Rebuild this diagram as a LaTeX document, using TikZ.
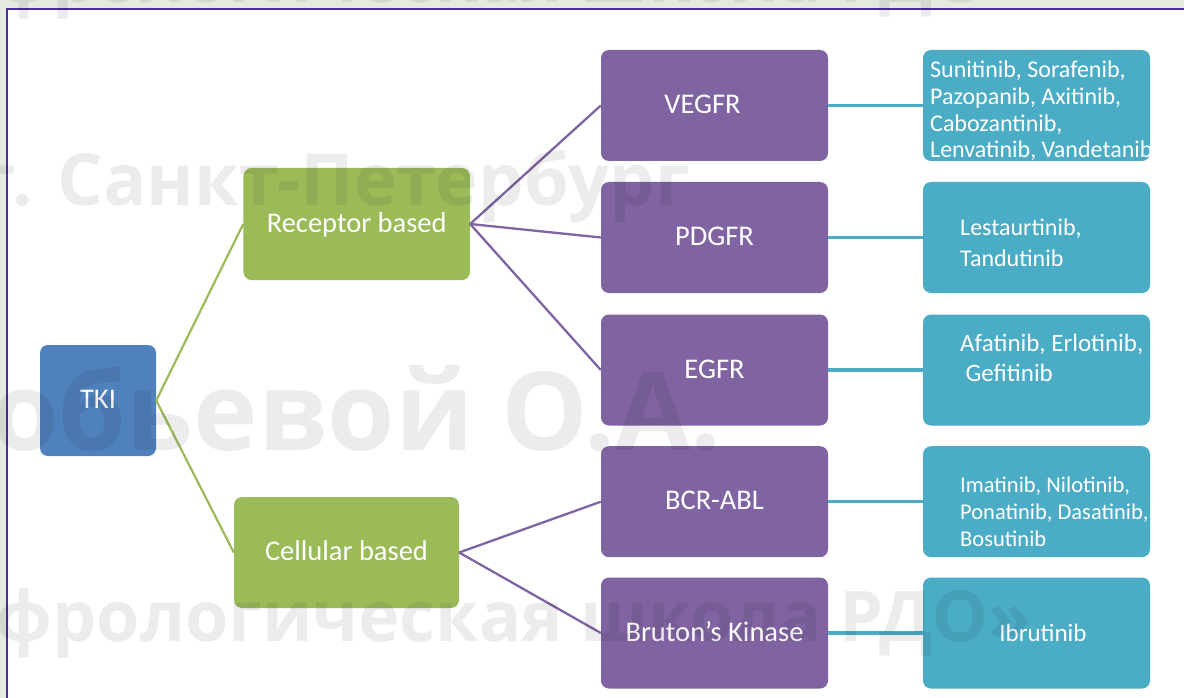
\documentclass[tikz,border=0pt]{standalone}
\usepackage{fontspec}
\setmainfont{Carlito}
\newfontfamily\wmfont{Open Sans}
\definecolor{tkiblue}{HTML}{4F81BD}
\definecolor{lvgreen}{HTML}{9BBB59}
\definecolor{lvpurple}{HTML}{8064A2}
\definecolor{lvcyan}{HTML}{4BACC6}
\definecolor{framecol}{RGB}{75,45,160}
\definecolor{outercol}{RGB}{227,235,225}
\begin{document}
\begin{tikzpicture}[x=1pt,y=-1pt,
  basebox/.style={rounded corners=8pt, inner sep=0pt, text=white,
    minimum width=227pt, minimum height=111pt,
    text height=16pt, text depth=0pt, font=\fontsize{28.5}{30}\selectfont},
  tkibox/.style={basebox, fill=tkiblue, minimum width=116pt},
  grbox/.style={basebox, fill=lvgreen},
  pubox/.style={basebox, fill=lvpurple},
  cybox/.style={basebox, fill=lvcyan},
  drug/.style={text=white, inner sep=0pt, align=left},
  grline/.style={draw=lvgreen, line width=2.2pt},
  puline/.style={draw=lvpurple, line width=2.3pt},
  cyline/.style={draw=lvcyan, line width=3.2pt},
  wm/.style={inner sep=0pt, text=black, text opacity=0.075,
    font=\wmfont\bfseries\fontsize{#1}{#1}\selectfont}
]
\useasboundingbox (0,0) rectangle (1184,698);
\fill[outercol] (0,0) rectangle (1184,698);
\fill[white] (7,9.3) rectangle (1184,698);
\draw[framecol, line width=2.4pt] (1184,9.3) -- (7,9.3) -- (7,698);

% level 0 and 1
\node[tkibox] (tki) at (98,400.5) {TKI};
\node[grbox, minimum width=226.5pt, minimum height=112pt] (rec) at (356.7,224) {Receptor based};
\node[grbox, minimum width=225pt] (cel) at (346.5,552.5) {Cellular based};

% level 2
\node[pubox] (vegfr) at (714.5,105.5) {\hspace*{-24pt}VEGFR};
\node[pubox] (pdgfr) at (714.5,237.5) {PDGFR};
\node[pubox] (egfr)  at (714.5,370)   {EGFR};
\node[pubox] (bcr)   at (714.5,501.7) {BCR-ABL};
\node[pubox] (btk)   at (714.5,633)   {Bruton’s Kinase};

% level 3 boxes
\node[cybox] (c1) at (1036.5,105.5) {};
\node[cybox] (c2) at (1036.5,237.5) {};
\node[cybox] (c3) at (1036.5,370)   {};
\node[cybox] (c4) at (1036.5,501.7) {};
\node[cybox] (c5) at (1036.5,633)   {};

% level 3 texts (base anchor = baseline of the last line)
\node[drug, anchor=base west, font=\fontsize{24}{26.7}\selectfont] (d1) at (930,157.7)
  {Sunitinib, Sorafenib,\\Pazopanib, Axitinib,\\Cabozantinib,\\Lenvatinib, Vandetanib};
\node[drug, anchor=base west, font=\fontsize{24}{31.7}\selectfont] (d2) at (960,266.7)
  {Lestaurtinib,\\Tandutinib};
\node[drug, anchor=base west, font=\fontsize{25}{30}\selectfont] (d3) at (960,381.7)
  {Afatinib, Erlotinib,\\\hspace*{5.5pt}Gefitinib};
\node[drug, anchor=base west, font=\fontsize{22.5}{27}\selectfont] (d4) at (960,546.7)
  {Imatinib, Nilotinib,\\Ponatinib, Dasatinib,\\Bosutinib};
\node[drug, anchor=base, font=\fontsize{25}{30}\selectfont] (d5) at (1043,641.7)
  {Ibrutinib};

% connectors
\draw[grline] (tki.east) -- (rec.west);
\draw[grline] (tki.east) -- (cel.west);
\draw[puline] (rec.east) -- (vegfr.west);
\draw[puline] (rec.east) -- (pdgfr.west);
\draw[puline] (rec.east) -- (egfr.west);
\draw[puline] (cel.east) -- (bcr.west);
\draw[puline] (cel.east) -- (btk.west);
\draw[cyline] (vegfr.east) -- (c1.west);
\draw[cyline] (pdgfr.east) -- (c2.west);
\draw[cyline] (egfr.east) -- (c3.west);
\draw[cyline] (bcr.east) -- (c4.west);
\draw[cyline] (btk.east) -- (c5.west);

% watermark
\node[wm=70, anchor=base east] (wm1) at (1032,3) {«Нефрологическая школа РДО»};
\node[wm=72, anchor=base east] (wm2) at (690,205) {г. Санкт-Петербург};
\node[wm=109, anchor=base east] (wm3) at (722,450) {Воробьевой О.А.};
\node[wm=70, anchor=base east] (wm4) at (1032,641) {«Нефрологическая школа РДО»};
\end{tikzpicture}
\end{document}
